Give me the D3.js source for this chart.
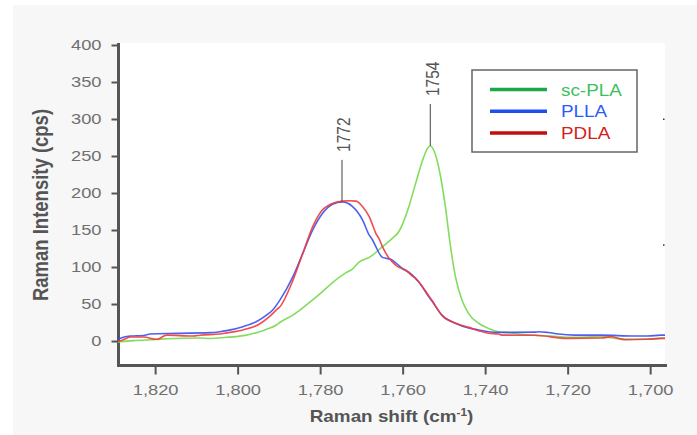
<!DOCTYPE html>
<html lang="en">
<head>
<meta charset="utf-8">
<title>Raman spectra - PLA</title>
<script src="https://cdn.jsdelivr.net/npm/d3@7"></script>
<style>
  body { margin: 0; background: #fff; }
  svg { display: block; font-family: "Liberation Sans", Arial, sans-serif; }
</style>
</head>
<body>
<svg id="chart" width="697" height="435"></svg>
<script>
//
// Data
//

// Raman shift (cm-1) and intensity (cps) for each sample
var scPlaShift = [1829, 1828.4, 1825.2, 1818.8, 1817.2, 1809.1, 1806.7, 1802.7, 1800.3, 1797.9, 1794.7, 1793.0, 1790.6, 1789.8, 1786.6, 1785.0, 1783.4, 1780.2, 1777.0, 1773.8, 1772.2, 1770.5, 1768.1, 1767.3, 1764.9, 1762.5, 1760.9, 1760.1, 1758.5, 1756.9, 1755.3, 1754.1, 1753.3, 1752.0, 1750.8, 1749.6, 1748.4, 1747.2, 1745.6, 1744.0, 1741.6, 1739.2, 1736.8, 1733.6, 1731.9, 1724.0, 1719.9, 1711.8, 1708.6, 1703.8, 1697.4, 1696.4]
var scPlaCps = [-1.5, -1, 0.5, 2.3, 3, 4, 3.5, 5, 6, 8, 12.6, 16, 21.6, 25, 35, 41.5, 48.5, 63, 79, 92, 97, 107, 113, 116, 127.5, 138.8, 148, 157, 181.5, 212, 242, 259, 263.5, 251, 222, 180, 128, 87, 55, 37, 24, 17, 12.6, 11, 9.5, 6.7, 5, 5.9, 3.6, 2.3, 3.6, 4]

var pllaShift = [1829, 1828.4, 1826.0, 1822.8, 1821.2, 1814.8, 1806.7, 1804.3, 1802.7, 1798.7, 1795.5, 1793.0, 1791.5, 1789.8, 1786.6, 1784.2, 1781.8, 1779.4, 1777.0, 1774.6, 1772.2, 1769.7, 1768.1, 1767.3, 1766.5, 1764.9, 1762.9, 1760.9, 1760.1, 1758.5, 1756.9, 1756.1, 1753.7, 1752.9, 1750.5, 1747.2, 1744.0, 1741.6, 1739.2, 1736.8, 1733.6, 1727.9, 1727.1, 1724.7, 1722.3, 1718.3, 1711.8, 1703.8, 1700.6, 1697.4, 1696.4]
var pllaCps = [2, 3.6, 6.7, 7.5, 9.5, 10.4, 11.3, 12.6, 14, 19.4, 26, 35, 42, 55, 87, 118.5, 150, 172.5, 184.7, 188, 182, 163.5, 143, 136.5, 127.5, 113, 110.4, 102, 98, 93, 85, 80, 60, 54, 35, 24, 17.5, 15, 12.6, 11.7, 11.7, 12, 12.6, 11.5, 9.5, 8, 8, 6.7, 6.7, 8, 8]

var pdlaShift = [1829, 1828.4, 1826.0, 1822.8, 1819.6, 1817.2, 1810.8, 1809.1, 1804.3, 1802.7, 1798.7, 1794.7, 1792.3, 1790.6, 1789.8, 1786.6, 1784.2, 1781.8, 1779.8, 1777.0, 1774.6, 1773.0, 1771.3, 1769.7, 1768.1, 1767.3, 1766.5, 1765.7, 1764.9, 1763.3, 1762.5, 1761.3, 1759.3, 1757.7, 1756.9, 1755.3, 1752.9, 1750.5, 1747.2, 1744.0, 1741.6, 1739.2, 1736.8, 1736.0, 1727.9, 1719.9, 1711.8, 1709.4, 1706.2, 1700.6, 1697.4, 1696.4]
var pdlaCps = [0, 0.4, 5.4, 5.4, 2.3, 8, 6.7, 7.9, 9.5, 11, 15, 23, 33, 42, 46, 82, 118.5, 154.5, 174.7, 186, 189, 189.5, 189, 181.5, 168, 157, 145.5, 138, 127.5, 112, 107, 101, 96, 88, 84.7, 74, 55, 35, 24, 18.5, 14, 10.4, 9.5, 8, 7.7, 3.6, 4, 5.9, 1.8, 2.3, 3.6, 3.6]

// series names in legend order
var seriesNames = ['sc-PLA', 'PLLA', 'PDLA']

// peak annotations
var peakLabels = ['1772', '1754']
var peakShift = [1774.7, 1753.3]
var peakCps = [188, 263.5]

// axis ticks
var xTicks = [1820, 1800, 1780, 1760, 1740, 1720, 1700]
var yTicks = [0, 50, 100, 150, 200, 250, 300, 350, 400]

//
// Configuration
//

var lineColor = { 'sc-PLA': '#76d84c', 'PLLA': '#3b4ff0', 'PDLA': '#ee3a3a' }
var keyColor = { 'sc-PLA': '#1aa84b', 'PLLA': '#1d4ff0', 'PDLA': '#c20e0e' }
var keyText = { 'sc-PLA': '#3dbf5e', 'PLLA': '#2b5bf5', 'PDLA': '#d42020' }
var axisColor = '#555'
var tickColor = '#707070'
var stretch = 1.18 // the reference text is a bit wide

var series = [
  { name: 'sc-PLA', pts: d3.zip(scPlaShift, scPlaCps) },
  { name: 'PLLA', pts: d3.zip(pllaShift, pllaCps) },
  { name: 'PDLA', pts: d3.zip(pdlaShift, pdlaCps) }
]

var svg = d3.select('#chart')

// plot box in pixels
var plotLeft = 118, plotRight = 665, plotTop = 45, plotBottom = 365

var x = d3.scaleLinear().domain([1829, 1696.4]).range([plotLeft, plotRight])
var y = d3.scaleLinear().domain([-32.4, 400]).range([plotBottom, plotTop])

// card background
svg.append('rect').attr('width', 697).attr('height', 435).attr('fill', '#fff')
svg.append('rect').attr('x', 13).attr('y', 5).attr('width', 684).attr('height', 430).attr('fill', '#f7f7f7')
svg.append('rect')
  .attr('x', plotLeft).attr('y', plotTop - 2)
  .attr('width', plotRight - plotLeft).attr('height', plotBottom - plotTop + 2)
  .attr('fill', '#fff')

function widen(sel) {
  sel.each(function() {
    var t = d3.select(this)
    var tx = +t.attr('x') || 0
    t.attr('x', tx / stretch).attr('transform', 'scale(' + stretch + ',1)')
  })
}

//
// Axes
//

var yAxis = svg.append('g')
  .attr('transform', 'translate(' + (plotLeft + 0.5) + ',0)')
  .call(d3.axisLeft(y).tickValues(yTicks).tickSize(7).tickPadding(10).tickFormat(d3.format('d')))
yAxis.select('.domain').remove()
yAxis.selectAll('line').attr('stroke', axisColor).attr('stroke-width', 2)
yAxis.selectAll('text')
  .attr('fill', tickColor).attr('font-size', 15.5).attr('font-family', '"Liberation Sans", Arial, sans-serif')
  .call(widen)

var xAxis = svg.append('g')
  .attr('transform', 'translate(0,' + (plotBottom + 0.5) + ')')
  .call(d3.axisBottom(x).tickValues(xTicks).tickSize(9).tickPadding(9).tickFormat(d3.format(',')))
xAxis.select('.domain').remove()
xAxis.selectAll('line').attr('stroke', axisColor).attr('stroke-width', 2)
xAxis.selectAll('text')
  .attr('fill', tickColor).attr('font-size', 15.5).attr('font-family', '"Liberation Sans", Arial, sans-serif')
  .call(widen)

// axis lines, drawn thick like the reference
svg.append('line')
  .attr('x1', plotLeft + 0.5).attr('x2', plotLeft + 0.5).attr('y1', plotTop - 2).attr('y2', plotBottom + 2)
  .attr('stroke', axisColor).attr('stroke-width', 3)
svg.append('line')
  .attr('x1', plotLeft - 1).attr('x2', plotRight + 2).attr('y1', plotBottom + 0.5).attr('y2', plotBottom + 0.5)
  .attr('stroke', axisColor).attr('stroke-width', 3)

// axis titles
var xTitle = svg.append('text')
  .attr('transform', 'translate(' + ((plotLeft + plotRight) / 2) + ',422) scale(' + stretch + ',1)')
  .attr('text-anchor', 'middle')
  .attr('font-size', 16).attr('font-weight', 'bold').attr('fill', axisColor)
xTitle.append('tspan').text('Raman shift (cm')
xTitle.append('tspan').attr('font-size', 10).attr('dy', -6).text('-1')
xTitle.append('tspan').attr('dy', 6).text(')')

svg.append('text')
  .attr('transform', 'translate(47.5,' + ((plotTop + plotBottom) / 2) + ') scale(' + stretch + ',1) rotate(-90)')
  .attr('text-anchor', 'middle')
  .attr('font-size', 18.5).attr('font-weight', 'bold').attr('fill', axisColor)
  .text('Raman Intensity (cps)')

//
// Lines
//

var line = d3.line()
  .x(function(d) { return x(d[0]) })
  .y(function(d) { return y(d[1]) })
  .curve(d3.curveMonotoneX)

svg.append('g')
  .selectAll('path')
  .data(series)
  .join('path')
  .attr('d', function(d) { return line(d.pts) })
  .attr('fill', 'none')
  .attr('stroke', function(d) { return lineColor[d.name] })
  .attr('stroke-width', 1.6)
  .attr('stroke-opacity', 0.9)

//
// Peak labels
//

peakLabels.forEach(function(label, i) {
  var px = x(peakShift[i]), py = y(peakCps[i])
  var lineTop = py - 42
  svg.append('line')
    .attr('x1', px).attr('x2', px).attr('y1', lineTop).attr('y2', py)
    .attr('stroke', '#444').attr('stroke-width', 1)
  svg.append('text')
    .attr('transform', 'translate(' + (px + 8.5) + ',' + (lineTop - 8) + ') scale(' + stretch + ',1) rotate(-90)')
    .attr('font-size', 15.5).attr('fill', '#555')
    .text(label)
})

//
// Legend
//

var legend = svg.append('g')
legend.append('rect')
  .attr('x', 472).attr('y', 70).attr('width', 165).attr('height', 82)
  .attr('fill', '#fff').attr('stroke', '#666').attr('stroke-width', 1.5)

var rows = legend.selectAll('g.row')
  .data(seriesNames)
  .join('g')
  .attr('class', 'row')
  .attr('transform', function(d, i) { return 'translate(0,' + (89.5 + i * 21.7) + ')' })
rows.append('line')
  .attr('x1', 490).attr('x2', 547)
  .attr('stroke', function(d) { return keyColor[d] }).attr('stroke-width', 3.5)
rows.append('text')
  .attr('transform', 'translate(561,6) scale(' + stretch + ',1)')
  .attr('font-size', 16)
  .attr('fill', function(d) { return keyText[d] })
  .text(function(d) { return d })

// two stray tick marks on the right edge of the plot
svg.selectAll('rect.nick')
  .data([300, 130])
  .join('rect')
  .attr('class', 'nick')
  .attr('x', plotRight - 2).attr('y', function(d) { return y(d) - 0.5 })
  .attr('width', 1.5).attr('height', 1.5).attr('fill', '#333')
</script>
</body>
</html>
